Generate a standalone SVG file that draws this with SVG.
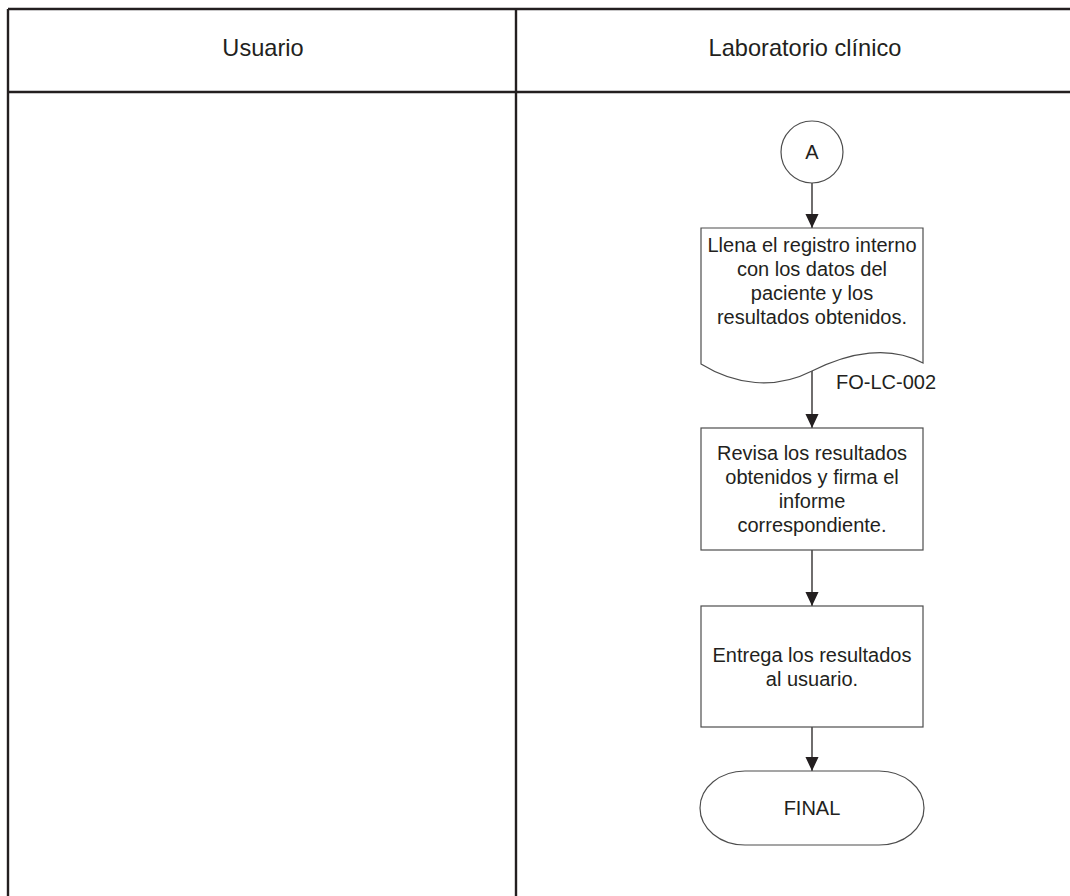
<svg xmlns="http://www.w3.org/2000/svg" width="1070" height="896" viewBox="0 0 1070 896">
  <style>
    .lane { stroke: #231f20; stroke-width: 2.4; fill: none; }
    .shape { fill: #ffffff; stroke: #4d4d4d; stroke-width: 1.2; }
    .conn { stroke: #231f20; stroke-width: 1.3; fill: none; marker-end: url(#arrow); }
    .hdr { font-family: "Liberation Sans", Arial, sans-serif; font-size: 23.6px; fill: #231f20; text-anchor: middle; }
    .txt { font-family: "Liberation Sans", Arial, sans-serif; font-size: 20px; fill: #231f20; text-anchor: middle; }
    .ref { text-anchor: start; }
  </style>
  <defs>
    <marker id="arrow" markerWidth="14" markerHeight="16" refX="15" refY="7" orient="auto" markerUnits="userSpaceOnUse" viewBox="0 0 15 14">
      <path d="M0,0 L15,7 L0,14 Z" fill="#231f20"/>
    </marker>
  </defs>

  <rect width="1070" height="896" fill="#ffffff"/>

  <!-- swimlane frame -->
  <g id="lanes">
    <line class="lane" x1="8" y1="9" x2="1070" y2="9"/>
    <line class="lane" x1="8" y1="92" x2="1070" y2="92"/>
    <line class="lane" x1="8" y1="9" x2="8" y2="896"/>
    <line class="lane" x1="516" y1="9" x2="516" y2="896"/>
    <text class="hdr" x="263" y="56">Usuario</text>
    <text class="hdr" x="805" y="56">Laboratorio clínico</text>
  </g>

  <!-- connectors -->
  <g id="connectors">
    <line class="conn" x1="812" y1="183" x2="812" y2="228"/>
    <line class="conn" x1="812" y1="371" x2="812" y2="428"/>
    <line class="conn" x1="812" y1="550" x2="812" y2="606"/>
    <line class="conn" x1="812" y1="727" x2="812" y2="771"/>
  </g>

  <g id="connector-a">
    <circle class="shape" cx="812" cy="152" r="31"/>
    <text class="txt" x="812" y="159">A</text>
  </g>

  <g id="registro">
    <path class="shape" d="M701,228 H923 V363 C890,345 850,352 812,371 C775,390 735,385 701,364 Z"/>
    <text class="txt" x="812" y="252">Llena el registro interno</text>
    <text class="txt" x="812" y="276">con los datos del</text>
    <text class="txt" x="812" y="300">paciente y los</text>
    <text class="txt" x="812" y="324">resultados obtenidos.</text>
    <text class="txt ref" x="836" y="389">FO-LC-002</text>
  </g>

  <g id="revisa">
    <rect class="shape" x="701" y="428" width="222" height="122"/>
    <text class="txt" x="812" y="460">Revisa los resultados</text>
    <text class="txt" x="812" y="484">obtenidos y firma el</text>
    <text class="txt" x="812" y="508">informe</text>
    <text class="txt" x="812" y="532">correspondiente.</text>
  </g>

  <g id="entrega">
    <rect class="shape" x="701" y="606" width="222" height="121"/>
    <text class="txt" x="812" y="662">Entrega los resultados</text>
    <text class="txt" x="812" y="686">al usuario.</text>
  </g>

  <g id="final">
    <path class="shape" d="M745,771 H879 A45,37 0 0 1 879,845 H745 A45,37 0 0 1 745,771 Z"/>
    <text class="txt" x="812" y="815">FINAL</text>
  </g>
</svg>
